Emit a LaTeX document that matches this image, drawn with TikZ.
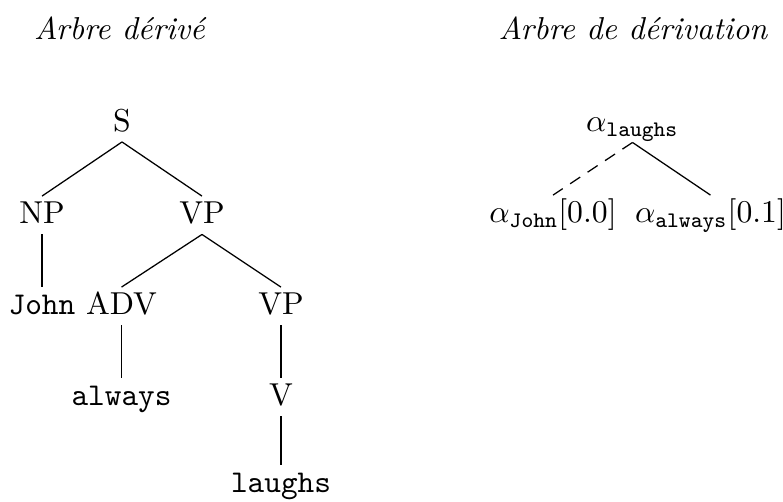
\documentclass[tikz,border=0pt]{standalone}
\begin{document}
\begin{tikzpicture}[x=0.3155pt,y=-0.3155pt,
  tn/.style={anchor=base,inner xsep=0pt,inner ysep=3.1pt,text height=5.5pt,text depth=0pt},
  ttl/.style={anchor=base,inner sep=0pt,font=\itshape},
  br/.style={line width=0.4pt},
  dsh/.style={br,dash pattern=on 3.8pt off 2.8pt}]
\useasboundingbox (0,0) rectangle (783,502);
\node[ttl] (t1) at (119.5,39.5) {Arbre dérivé};
\node[ttl] (t2) at (633,39.5) {Arbre de dérivation};
% derived tree
\node[tn] (S) at (122,131.5) {S};
\node[tn] (NP) at (42,224) {NP};
\node[tn] (VP) at (202,224) {VP};
\node[tn] (John) at (42,315) {\texttt{John}};
\node[tn] (ADV) at (121.5,315) {ADV};
\node[tn] (VPb) at (281,315) {VP};
\node[tn] (always) at (121.5,405.5) {\texttt{always}};
\node[tn] (V) at (281,406) {V};
\node[tn] (laughs) at (281,493) {\texttt{laughs}};
\draw[br] (S.south) -- (NP.north);
\draw[br] (S.south) -- (VP.north);
\draw[br] (NP.south) -- (John.north);
\draw[br] (VP.south) -- (ADV.north);
\draw[br] (VP.south) -- (VPb.north);
\draw[br] (ADV.south) -- (always.north);
\draw[br] (VPb.south) -- (V.north);
\draw[br] (V.south) -- (laughs.north);
% derivation tree
\node[tn] (al) at (632.5,132) {$\alpha_{\mathtt{laughs}}$};
\node[tn] (aJ) at (553,223) {$\alpha_{\mathtt{John}}[0.0]$};
\node[tn] (aa) at (710.5,223) {$\alpha_{\mathtt{always}}[0.1]$};
\draw[dsh] (al.south) -- (aJ.north);
\draw[br] (al.south) -- (aa.north);
\end{tikzpicture}
\end{document}
